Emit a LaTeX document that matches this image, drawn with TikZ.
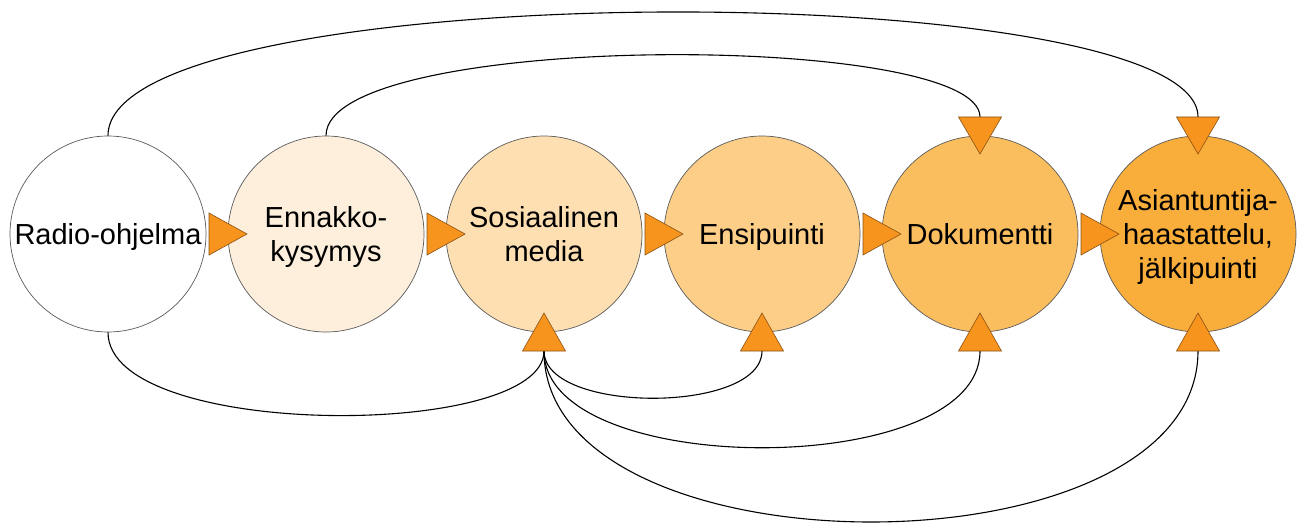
\documentclass[tikz,border=0pt]{standalone}
\usepackage{fontspec}
\setmainfont{Liberation Sans}
\definecolor{cA}{HTML}{FFFFFF}
\definecolor{cB}{HTML}{FDEFDB}
\definecolor{cC}{HTML}{FDDFB2}
\definecolor{cD}{HTML}{FCCE87}
\definecolor{cE}{HTML}{FBBE5F}
\definecolor{cF}{HTML}{F9AE3B}
\definecolor{arrowfill}{HTML}{F7941E}
\definecolor{arrowedge}{HTML}{8A5012}
\definecolor{ringedge}{HTML}{5A5A5A}
\tikzset{
  stage/.style={circle, draw=ringedge, line width=0.7pt, minimum size=196pt, inner sep=0pt,
    align=center, text depth=0pt, font=\fontsize{29}{34}\selectfont},
  link/.style={draw=black, line width=1.1pt},
  tri/.style={fill=arrowfill, draw=arrowedge, line width=0.6pt, line join=miter}
}
\begin{document}
\begin{tikzpicture}[x=1pt,y=-1pt]
\useasboundingbox (0,0) rectangle (1300,524);
% stages
\node[stage, fill=cA] (radio) at (108,234) {Radio-ohjelma};
\node[stage, fill=cB] (enn) at (326,234) {Ennakko-\\kysymys};
\node[stage, fill=cC] (some) at (544,234) {Sosiaalinen\\media};
\node[stage, fill=cD] (ensi) at (762,234) {Ensipuinti};
\node[stage, fill=cE] (doku) at (980,234) {Dokumentti};
\node[stage, fill=cF] (asi) at (1198,234) {Asiantuntija-\\haastattelu,\\jälkipuinti};
% connector end points (triangle bases)
\coordinate (dokutop) at (980,117);
\coordinate (asitop) at (1198,117);
\coordinate (somebot) at (544,351);
\coordinate (ensibot) at (762,351);
\coordinate (dokubot) at (980,351);
\coordinate (asibot) at (1198,351);
% connectors
\draw[link] (radio.north) .. controls (108,-26) and (1198,-26) .. (asitop);
\draw[link] (enn.north) .. controls (326,31) and (980,31) .. (dokutop);
\draw[link] (radio.south) .. controls (108,440) and (544,440) .. (somebot);
\draw[link] (somebot) .. controls (544,414) and (762,414) .. (ensibot);
\draw[link] (somebot) .. controls (544,480) and (980,480) .. (dokubot);
\draw[link] (somebot) .. controls (544,579) and (1198,579) .. (asibot);
% horizontal triangles
\foreach \cx in {108,326,544,762,980}{
  \draw[tri] (\cx+101,213) -- (\cx+139,234) -- (\cx+101,255) -- cycle;
}
% top triangles (pointing down)
\foreach \cx in {980,1198}{
  \draw[tri] (\cx-21.5,117) -- (\cx+21.5,117) -- (\cx,154) -- cycle;
}
% bottom triangles (pointing up)
\foreach \cx in {544,762,980,1198}{
  \draw[tri] (\cx-21.5,351) -- (\cx+21.5,351) -- (\cx,313) -- cycle;
}
\end{tikzpicture}
\end{document}
